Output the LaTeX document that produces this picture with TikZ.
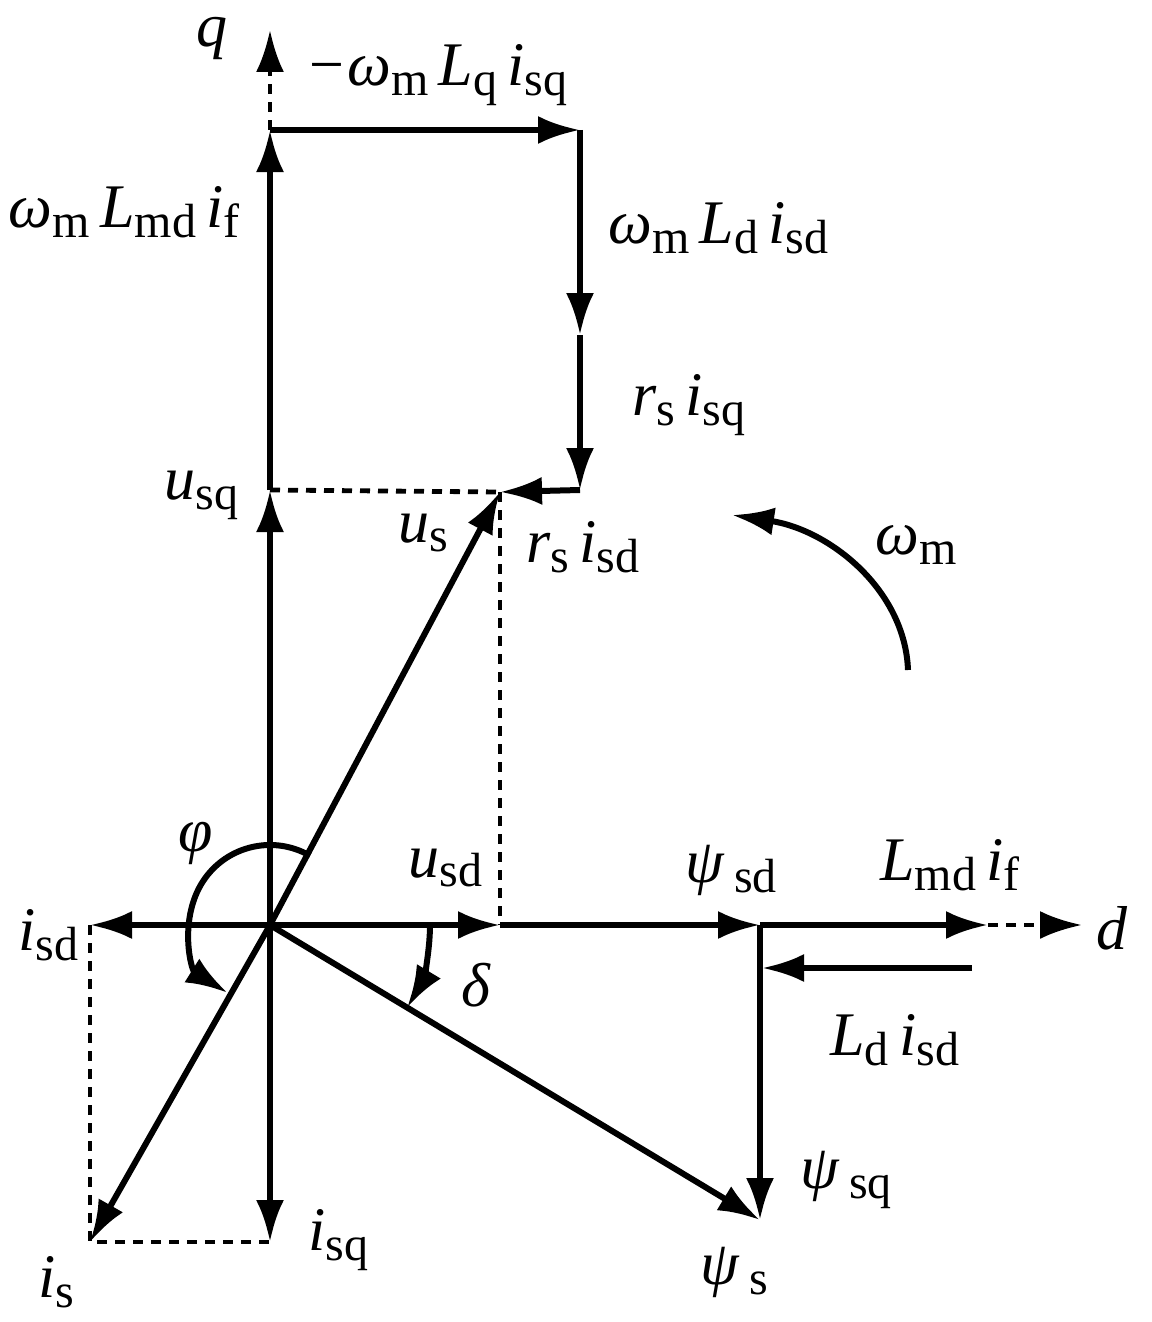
\documentclass[tikz,border=0pt]{standalone}
\usepackage{fontspec}
\setmainfont{Liberation Serif}
\newfontfamily\tnr{Liberation Serif}
\usetikzlibrary{arrows.meta}
\newcommand{\lsub}[1]{\raisebox{-0.35ex}{\tnr\upshape\fontsize{24}{26}\selectfont #1}}
\begin{document}
\begin{tikzpicture}[x=0.5pt,y=-0.5pt,
  vec/.style={line width=3pt,-{Latex[length=21pt,width=14pt]}},
  dsh/.style={line width=2.4pt,dash pattern=on 5pt off 4pt},
  lbl/.style={font=\tnr\fontsize{31}{34}\selectfont\itshape,inner sep=0pt}]
\useasboundingbox (0,0) rectangle (1151,1322);
\coordinate (O) at (270,925);
\coordinate (Q1) at (270,130);
\coordinate (Q2) at (270,490);
\coordinate (Qt) at (270,30);
\coordinate (A) at (580,130);
\coordinate (B) at (580,335);
\coordinate (C) at (580,490);
\coordinate (U) at (500,492);
\coordinate (Ud) at (500,925);
\coordinate (Psd) at (760,925);
\coordinate (Lf) at (988,925);
\coordinate (Dt) at (1082,925);
\coordinate (L1) at (972,968);
\coordinate (L2) at (762,968);
\coordinate (Ps) at (760,1220);
\coordinate (Isd) at (90,925);
\coordinate (Isq) at (270,1242);
\coordinate (Is) at (90,1242);
\coordinate (W1) at (908,670);
\coordinate (W2) at (732,515);
% axes dashed
\draw[dsh,-{Latex[length=21pt,width=14pt]}] (Q1) -- (Qt);
\draw[dsh,-{Latex[length=21pt,width=14pt]}] (Lf) -- (Dt);
% q vectors
\draw[vec] (O) -- (Q2);
\draw[vec] (Q2) -- (Q1);
\draw[vec] (Q1) -- (A);
\draw[vec] (A) -- (B);
\draw[vec] (B) -- (C);
\draw[vec] (C) -- (U);
\draw[dsh] (Q2) -- (U);
\draw[dsh] (U) -- (Ud);
\draw[vec] (O) -- (U);
% d vectors
\draw[vec] (O) -- (Ud);
\draw[vec] (Ud) -- (Psd);
\draw[vec] (Psd) -- (Lf);
\draw[vec] (L1) -- (L2);
\draw[vec] (Psd) -- (Ps);
\draw[vec] (O) -- (Ps);
% current
\draw[vec] (O) -- (Isd);
\draw[vec] (O) -- (Isq);
\draw[vec] (O) -- (Is);
\draw[dsh] (Isd) -- (Is) -- (Isq);
% arcs
\draw[vec] (O) ++(-60:80) arc[start angle=-60,end angle=-238,radius=80];
\draw[vec] (O) ++(0:160) arc[start angle=0,end angle=31,radius=160];
\draw[vec] (W1) .. controls (905,590) and (830,530) .. (W2);
% labels
\node[lbl] at (212,38) {q};
\node[lbl] at (1112,928) {d};
\node[lbl,anchor=west] at (305,75) {−ω\lsub{m}\,L\lsub{q}\,i\lsub{sq}};
\node[lbl,anchor=east] at (240,212) {ω\lsub{m}\,L\lsub{md}\,i\lsub{f}};
\node[lbl,anchor=west] at (608,228) {ω\lsub{m}\,L\lsub{d}\,i\lsub{sd}};
\node[lbl,anchor=west] at (632,405) {r\lsub{s}\,i\lsub{sq}};
\node[lbl,anchor=west] at (526,547) {r\lsub{s}\,i\lsub{sd}};
\node[lbl,anchor=west] at (164,495) {u\lsub{sq}};
\node[lbl,anchor=west] at (398,533) {u\lsub{s}};
\node[lbl,anchor=west] at (875,545) {ω\lsub{m}};
\node[lbl] at (196,843) {φ};
\node[lbl,anchor=west] at (408,868) {u\lsub{sd}};
\node[lbl,anchor=west] at (685,870) {ψ\,\lsub{sd}};
\node[lbl,anchor=west] at (880,865) {L\lsub{md}\,i\lsub{f}};
\node[lbl] at (476,985) {δ};
\node[lbl,anchor=west] at (830,1040) {L\lsub{d}\,i\lsub{sd}};
\node[lbl,anchor=west] at (18,935) {i\lsub{sd}};
\node[lbl,anchor=west] at (800,1180) {ψ\,\lsub{sq}};
\node[lbl,anchor=west] at (700,1272) {ψ\,\lsub{s}};
\node[lbl,anchor=west] at (308,1240) {i\lsub{sq}};
\node[lbl,anchor=west] at (38,1282) {i\lsub{s}};
\end{tikzpicture}
\end{document}
